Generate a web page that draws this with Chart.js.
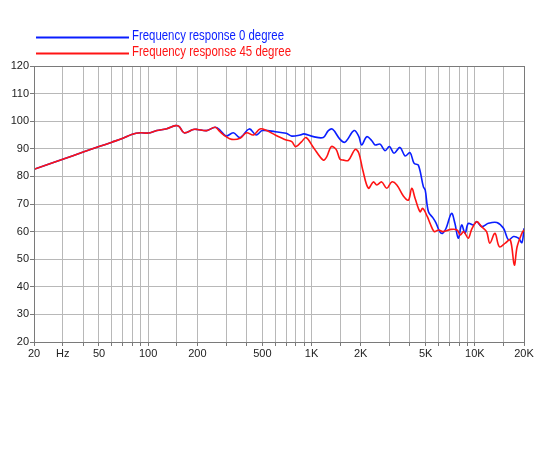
<!DOCTYPE html>
<html>
<head>
<meta charset="utf-8">
<script src="https://cdn.jsdelivr.net/npm/chart.js@4.4.0/dist/chart.umd.min.js"></script>
<style>
  body { margin: 0; background: #fff; }
  #chart { display: block; }
</style>
</head>
<body>
<canvas id="chart" width="550" height="450"></canvas>
<script>
// frequency response, 0 degree (blue)
const freq0 = [20, 30, 40, 50, 60, 70, 80, 90, 100, 113, 130, 147, 155, 166, 189, 200, 228, 257,
  275, 300, 332, 365, 416, 458, 500, 600, 700, 757, 851, 900, 1027, 1180, 1268, 1345, 1496, 1605,
  1823, 1950, 2030, 2180, 2340, 2450, 2630, 2820, 3000, 3200, 3480, 3740, 4010, 4250, 4510, 4840,
  4970, 5200, 5570, 5800, 6090, 6360, 6670, 7200, 7550, 7920, 8310, 8710, 9120, 9800, 10270, 11020,
  12100, 13640, 14980, 16070, 17240, 18500, 19420, 20000];
const db0 = [82.6, 86.2, 88.8, 90.8, 92.4, 93.8, 95.3, 95.8, 95.7, 96.6, 97.3, 98.4, 98.0, 95.8, 97.0, 97.0, 96.6, 97.8,
  96.8, 94.6, 95.8, 94.1, 97.2, 95.0, 96.6, 96.2, 95.6, 94.6, 95.0, 95.4, 94.4, 94.1, 96.6, 97.1, 93.4, 92.4,
  96.6, 94.4, 91.4, 94.4, 92.9, 91.4, 91.7, 89.3, 90.8, 88.4, 90.5, 87.4, 88.6, 84.7, 84.1, 76.3,
  75.0, 67.2, 64.8, 63.0, 60.0, 59.4, 61.2, 66.6, 63.0, 57.6, 62.4, 59.4, 63.0, 62.4, 63.6, 61.8,
  63.0, 63.3, 61.2, 57.0, 58.2, 57.6, 56.0, 61.2];

// frequency response, 45 degree (red)
const freq45 = [20, 30, 40, 50, 60, 70, 80, 90, 100, 113, 130, 147, 155, 166, 189, 200, 228, 257,
  275, 300, 325, 365, 400, 441, 484, 532, 600, 700, 757, 801, 871, 926, 1027, 1180, 1239, 1321, 1415,
  1496, 1571, 1681, 1852, 1950, 2060, 2230, 2390, 2510, 2690, 2890, 3100, 3330, 3650, 3920, 4110, 4310,
  4620, 4800, 5120, 5320, 5640, 6000, 6360, 7160, 7780, 8150, 8540, 9120, 9560, 10270, 11000, 11800,
  12360, 13280, 14140, 15360, 16480, 17450, 18150, 19420, 20000];
const db45 = [82.6, 86.2, 88.8, 90.8, 92.4, 93.8, 95.3, 95.8, 95.7, 96.6, 97.3, 98.4, 98.0, 95.8, 97.0, 97.0, 96.6, 97.8,
  96.2, 94.4, 93.4, 93.8, 95.8, 95.0, 97.2, 96.6, 95.0, 93.2, 92.6, 90.8, 92.6, 94.1, 90.5, 85.9, 87.1, 90.8, 89.8,
  86.2, 85.9, 85.8, 89.8, 88.4, 82.3, 75.7, 78.0, 76.9, 78.0, 75.7, 78.0, 76.9, 72.9, 71.4, 75.7, 72.0,
  67.2, 68.4, 65.4, 63.0, 60.0, 60.6, 60.0, 60.8, 60.6, 58.8, 60.0, 57.6, 60.8, 63.6, 61.8, 60.0,
  55.8, 59.4, 54.5, 55.8, 57.0, 47.9, 54.5, 59.4, 60.6];

const xTicks = [20, 30, 40, 50, 60, 70, 80, 90, 100, 150, 200, 300, 400, 500, 600, 700, 800, 900,
  1000, 1500, 2000, 3000, 4000, 5000, 6000, 7000, 8000, 9000, 10000, 15000, 20000];
const xLabels = { 20: '20', 30: 'Hz', 50: '50', 100: '100', 200: '200', 500: '500',
  1000: '1K', 2000: '2K', 5000: '5K', 10000: '10K', 20000: '20K' };
const yLabels = { 115: 'dB' };

const legendNames = ['Frequency response 0 degree', 'Frequency response 45 degree'];
const blue = '#0a1eff';
const red = '#ff1414';

function points(xs, ys) {
  return xs.map((x, i) => ({ x: x, y: ys[i] }));
}

const framePlugin = {
  id: 'frame',
  afterDraw(chart) {
    const { ctx, chartArea: a } = chart;
    ctx.save();
    ctx.strokeStyle = '#7a7a7a';
    ctx.lineWidth = 1;
    ctx.strokeRect(a.left + 0.5, a.top + 0.5, a.right - a.left, a.bottom - a.top);

    // legend: long line then coloured, narrow text
    const rows = [[blue, 37.5, 152], [red, 53.5, 159]];
    ctx.font = '14px "Liberation Sans", Arial, sans-serif';
    ctx.textBaseline = 'middle';
    rows.forEach((r, i) => {
      ctx.strokeStyle = r[0];
      ctx.lineWidth = 2;
      ctx.beginPath();
      ctx.moveTo(36, r[1]);
      ctx.lineTo(129, r[1]);
      ctx.stroke();
      ctx.fillStyle = r[0];
      ctx.fillText(legendNames[i], 132, r[1] - 1, r[2]);
    });
    ctx.restore();
  }
};

const ctx = document.getElementById('chart').getContext('2d');
const myChart = new Chart(ctx, {
  type: 'line',
  data: {
    datasets: [{
      label: legendNames[0],
      data: points(freq0, db0),
      borderColor: blue,
      borderWidth: 1.6,
      pointRadius: 0,
      tension: 0.35,
      order: 2
    }, {
      label: legendNames[1],
      data: points(freq45, db45),
      borderColor: red,
      borderWidth: 1.6,
      pointRadius: 0,
      tension: 0.35,
      order: 1
    }]
  },
  options: {
    responsive: false,
    animation: false,
    devicePixelRatio: 1,
    layout: { padding: { top: 66, right: 26, bottom: 88, left: 0 } },
    plugins: {
      legend: { display: false },
      tooltip: { enabled: false }
    },
    scales: {
      x: {
        type: 'logarithmic',
        min: 20,
        max: 20000,
        afterBuildTicks: function(scale) {
          scale.ticks = xTicks.map(v => ({ value: v }));
        },
        afterFit: function(scale) { scale.height = 20; },
        border: { display: false },
        grid: { color: '#b8b8b8', lineWidth: 1, tickLength: 4, tickColor: '#7a7a7a' },
        ticks: {
          autoSkip: false,
          maxRotation: 0,
          padding: 1,
          color: '#222',
          font: { family: '"Liberation Sans", Arial, sans-serif', size: 11 },
          callback: function(value) {
            return xLabels[value] || '';
          }
        }
      },
      y: {
        min: 20,
        max: 120,
        afterFit: function(scale) { scale.width = 34; },
        border: { display: false },
        grid: {
          color: function(c) { return c.tick && c.tick.value % 10 === 0 ? '#b8b8b8' : 'rgba(0,0,0,0)'; },
          tickColor: function(c) { return c.tick && c.tick.value % 10 === 0 ? '#7a7a7a' : 'rgba(0,0,0,0)'; },
          tickLength: 4
        },
        ticks: {
          stepSize: 5,
          padding: 1,
          color: '#222',
          font: { family: '"Liberation Sans", Arial, sans-serif', size: 11 },
          callback: function(value) {
            if (yLabels[value]) return yLabels[value];
            return value % 10 === 0 ? value : '';
          }
        }
      }
    }
  },
  plugins: [framePlugin]
});
</script>
</body>
</html>
